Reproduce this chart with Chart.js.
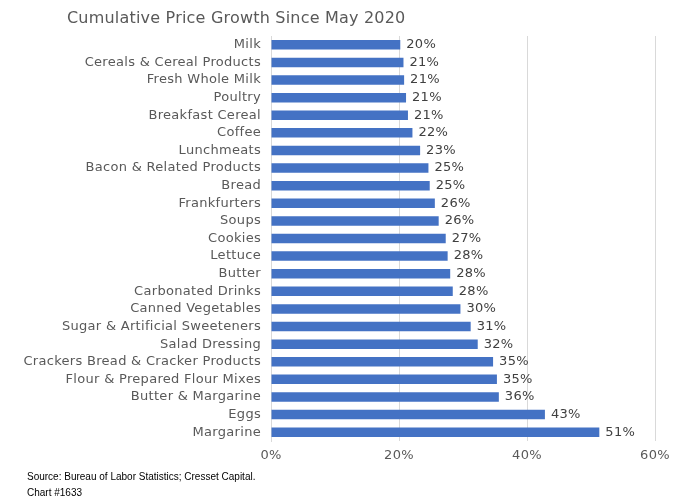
<!DOCTYPE html>
<html><head><meta charset="utf-8">
<script src="https://cdn.jsdelivr.net/npm/chart.js@4/dist/chart.umd.min.js"></script>
<style>html,body{margin:0;padding:0;background:#fff;}#wrap{width:690px;height:501px;position:relative;}</style>
</head><body><div id="wrap"><canvas id="c" width="690" height="501"></canvas></div>
<script>
const titleText = 'Cumulative Price Growth Since May 2020';
const footerLines = ['Source: Bureau of Labor Statistics; Cresset Capital.', 'Chart #1633'];
const categories = ['Milk','Cereals & Cereal Products','Fresh Whole Milk','Poultry','Breakfast Cereal','Coffee','Lunchmeats','Bacon & Related Products','Bread','Frankfurters','Soups','Cookies','Lettuce','Butter','Carbonated Drinks','Canned Vegetables','Sugar & Artificial Sweeteners','Salad Dressing','Crackers Bread & Cracker Products','Flour & Prepared Flour Mixes','Butter & Margarine','Eggs','Margarine'];
const growthPct = [20.2,20.7,20.8,21.1,21.4,22.1,23.3,24.6,24.8,25.6,26.2,27.3,27.6,28.0,28.4,29.6,31.2,32.3,34.7,35.3,35.6,42.8,51.3];
const xTicks = [0,20,40,60];

const FONT = "'DejaVu Sans', sans-serif";
const spacingPlugin = {
  id: 'spacing',
  beforeDraw(chart) { chart.ctx.letterSpacing = '0.3px'; }
};
const textPlugin = {
  id: 'texts',
  afterDraw(chart) {
    const ctx = chart.ctx;
    ctx.save();
    ctx.letterSpacing = '0.2px';
    ctx.fillStyle = '#595959';
    ctx.font = "16px " + FONT;
    ctx.textBaseline = 'middle';
    ctx.textAlign = 'left';
    ctx.fillText(titleText, 67, 19);
    ctx.letterSpacing = '0px';
    ctx.fillStyle = '#000';
    ctx.font = "10px 'Liberation Sans', sans-serif";
    footerLines.forEach((l, i) => ctx.fillText(l, 27, 477 + i * 16));
    const meta = chart.getDatasetMeta(0);
    ctx.letterSpacing = '0.3px';
    ctx.fillStyle = '#404040';
    ctx.font = "13px " + FONT;
    meta.data.forEach((bar, i) => {
      ctx.fillText(Math.round(growthPct[i]) + '%', bar.x + 6, bar.y);
    });
    ctx.restore();
  }
};

new Chart(document.getElementById('c'), {
  type: 'bar',
  data: { labels: categories, datasets: [{ data: growthPct, backgroundColor: '#4472C4', barPercentage: 0.54, categoryPercentage: 1 }] },
  options: {
    indexAxis: 'y', responsive: false, animation: false,
    layout: { padding: { top: 36, right: 35, bottom: 30, left: 0 } },
    plugins: { legend: { display: false }, tooltip: { enabled: false } },
    scales: {
      x: {
        min: 0, max: 60,
        afterBuildTicks(s) { s.ticks = xTicks.map(v => ({ value: v })); },
        afterFit(s) { s.height = 30; },
        grid: { color: '#d9d9d9', drawTicks: false },
        border: { display: false },
        ticks: { padding: 7, color: '#595959', font: { family: FONT, size: 13 }, callback: v => v + '%' }
      },
      y: {
        afterFit(s) { s.width = 271; },
        grid: { display: false, drawTicks: false },
        border: { display: true, color: '#d9d9d9' },
        ticks: { padding: 10, color: '#595959', autoSkip: false, font: { family: FONT, size: 13 } }
      }
    }
  },
  plugins: [spacingPlugin, textPlugin]
});
</script></body></html>
